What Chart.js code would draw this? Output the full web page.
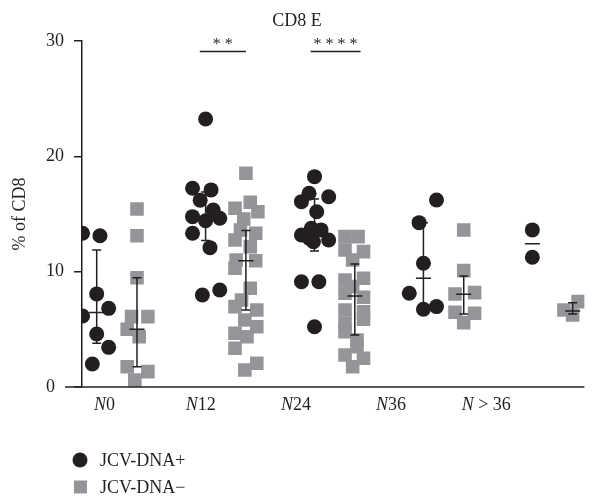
<!DOCTYPE html>
<html>
<head>
<meta charset="utf-8">
<script src="https://cdn.jsdelivr.net/npm/chart.js@4.4.1/dist/chart.umd.min.js"></script>
<style>
  html, body { margin: 0; padding: 0; background: #fff; }
  #wrap { width: 594px; height: 497px; }
</style>
</head>
<body>
<div id="wrap"><canvas id="myGraph"></canvas></div>
<script>
// groups (N = months) and where their labels sit on the x axis
const groups = ['0', '12', '24', '36', ' > 36'];
const labelPos = [-0.113, 0.77, 1.644, 2.518, 3.392];

// JCV-DNA+ values per group, with the horizontal scatter of each point
const posValues = [
  [13.33, 13.12, 8.07, 6.82, 6.16, 4.6, 3.44, 1.99],
  [23.24, 17.23, 17.09, 16.2, 15.35, 14.77, 14.63, 14.42, 13.33, 12.08, 8.41, 7.98],
  [18.24, 16.8, 16.5, 16.07, 15.2, 13.76, 13.62, 13.18, 12.9, 12.75, 12.6, 9.13, 9.13, 5.23],
  [16.22, 14.25, 10.73, 8.13, 6.97, 6.74],
  [13.62, 11.25]
];
const posJitter = [
  [-0.13, 0.03, 0, 0.11, -0.13, 0, 0.11, -0.04],
  [0, -0.12, 0.05, -0.05, 0.07, -0.12, 0.13, 0, -0.12, 0.04, 0.13, -0.03],
  [0, -0.05, 0.13, -0.12, 0.02, -0.03, 0.06, -0.12, -0.05, 0.13, -0.01, -0.12, 0.04, 0],
  [0.12, -0.04, 0, -0.13, 0.12, 0],
  [0, 0]
];

// JCV-DNA- values per group
const negValues = [
  [15.44, 13.12, 9.48, 6.1, 6.1, 5.0, 4.36, 1.76, 1.33, 0.6],
  [18.53, 16.02, 15.5, 15.2, 14.57, 13.62, 13.33, 12.75, 12.17, 11.01, 10.95, 10.29, 8.56, 7.55, 6.97, 6.68, 5.81, 5.23, 4.66, 4.36, 3.36, 2.06, 1.47],
  [13.04, 13.04, 11.88, 11.74, 11.01, 9.43, 9.28, 8.7, 8.13, 7.78, 6.68, 6.53, 5.87, 5.52, 4.8, 4.08, 3.5, 2.78, 2.49, 1.76],
  [13.62, 10.09, 8.18, 8.07, 6.48, 6.39, 5.58],
  [7.4, 6.68, 6.24]
];
const negJitter = [
  [0, 0, 0, -0.05, 0.1, -0.09, 0.02, -0.09, 0.1, -0.02],
  [0, 0.04, -0.1, 0.11, -0.02, -0.05, 0.09, -0.1, 0.04, -0.09, 0.09, -0.1, 0.04, -0.04, -0.1, 0.1, -0.01, 0.1, -0.1, 0.01, -0.1, 0.1, -0.01],
  [-0.09, 0.03, -0.09, 0.08, -0.02, 0.08, -0.09, -0.02, -0.09, 0.08, -0.09, 0.08, 0.08, -0.09, -0.09, 0.02, 0.02, -0.09, 0.08, -0.02],
  [0, 0, 0.1, -0.08, -0.08, 0.1, 0],
  [0.05, -0.08, 0]
];

// median and spread bars
const posMedian = [6.45, 14.7, 13.4, 9.43, 12.43];
const posLow = [3.79, 12.7, 11.8, 6.8, 12.43];
const posHigh = [11.88, 16.9, 16.3, 14.25, 12.43];
const negMedian = [5.0, 10.95, 7.89, 8.04, 6.59];
const negLow = [1.76, 6.68, 4.5, 6.33, 6.33];
const negHigh = [9.48, 13.56, 10.67, 9.63, 7.31];

// significance marks
const sigText = ['* *', '* * * *'];
const sigFrom = [0.761, 1.779];
const sigTo = [1.185, 2.238];
const sigY = [29.1, 29.1];

const side = 0.185;
const ink = '#231f20';
const grey = '#939598';
const serif = 'Liberation Serif';

function points(values, jitter, off) {
  const out = [];
  values.forEach((vals, g) => {
    vals.forEach((v, k) => out.push({ x: g + off + jitter[g][k], y: v }));
  });
  return out;
}

const ctx = document.getElementById('myGraph');

const extras = {
  id: 'extras',
  afterDatasetDraw(chart, args) {
    if (args.index !== 1) return;
    const c = chart.ctx, x = chart.scales.x, y = chart.scales.y;
    c.save();
    c.strokeStyle = ink;
    c.lineWidth = 1.5;
    const bar = (gx, med, lo, hi) => {
      const px = x.getPixelForValue(gx);
      const pm = y.getPixelForValue(med), pl = y.getPixelForValue(lo), ph = y.getPixelForValue(hi);
      c.beginPath();
      c.moveTo(px, pl); c.lineTo(px, ph);
      c.moveTo(px - 4.5, pl); c.lineTo(px + 4.5, pl);
      c.moveTo(px - 4.5, ph); c.lineTo(px + 4.5, ph);
      c.moveTo(px - 7.5, pm); c.lineTo(px + 7.5, pm);
      c.stroke();
    };
    groups.forEach((g, i) => {
      bar(i - side, posMedian[i], posLow[i], posHigh[i]);
      bar(i + side, negMedian[i], negLow[i], negHigh[i]);
    });
    c.restore();
  },
  afterDraw(chart) {
    const c = chart.ctx, x = chart.scales.x, y = chart.scales.y, a = chart.chartArea;
    c.save();
    c.fillStyle = ink;
    c.strokeStyle = ink;
    // baseline
    c.lineWidth = 1.5;
    c.beginPath();
    c.moveTo(a.left - 17, a.bottom);
    c.lineTo(a.right, a.bottom);
    c.stroke();
    // group labels: italic N, upright number
    c.textBaseline = 'middle';
    c.textAlign = 'left';
    groups.forEach((g, i) => {
      const cx = x.getPixelForValue(labelPos[i]);
      c.font = 'italic 18px "' + serif + '"';
      const wN = c.measureText('N').width;
      c.font = '18px "' + serif + '"';
      const wR = c.measureText(g).width;
      const left = cx - (wN + wR) / 2;
      c.font = 'italic 18px "' + serif + '"';
      c.fillText('N', left, a.bottom + 18);
      c.font = '18px "' + serif + '"';
      c.fillText(g, left + wN, a.bottom + 18);
    });
    // significance
    c.lineWidth = 1.5;
    c.textAlign = 'center';
    sigText.forEach((t, i) => {
      const x1 = x.getPixelForValue(sigFrom[i]), x2 = x.getPixelForValue(sigTo[i]);
      const py = y.getPixelForValue(sigY[i]);
      c.beginPath();
      c.moveTo(x1, py); c.lineTo(x2, py);
      c.stroke();
      c.font = '16px "' + serif + '"';
      c.fillText(t, (x1 + x2) / 2, py - 7);
    });
    // legend
    c.textAlign = 'left';
    c.font = '18px "' + serif + '"';
    chart.data.datasets.forEach((ds, i) => {
      const ly = a.bottom + 73 + i * 27;
      c.fillStyle = ds.backgroundColor;
      c.beginPath();
      if (ds.pointStyle === 'rect') {
        c.rect(74, ly - 6.5, 13, 13);
      } else {
        c.arc(80, ly, 7.5, 0, Math.PI * 2);
      }
      c.fill();
      c.fillStyle = ink;
      c.fillText(ds.label, 100, ly + 1);
    });
    c.restore();
  }
};

const data = {
  datasets: [
    {
      label: 'JCV-DNA+',
      data: points(posValues, posJitter, -side),
      pointStyle: 'circle',
      pointRadius: 7.5,
      backgroundColor: ink,
      borderWidth: 0
    },
    {
      label: 'JCV-DNA\u2212',
      data: points(negValues, negJitter, side),
      pointStyle: 'rect',
      pointRadius: 9.6,
      backgroundColor: grey,
      borderWidth: 0
    }
  ]
};

const config = {
  type: 'scatter',
  data: data,
  plugins: [extras],
  options: {
    responsive: true,
    maintainAspectRatio: false,
    animation: false,
    events: [],
    layout: { padding: { left: 0, right: 0, top: 0, bottom: 110 } },
    plugins: {
      legend: { display: false },
      tooltip: { enabled: false },
      title: {
        display: true,
        text: 'CD8 E',
        color: ink,
        font: { family: serif, size: 18, weight: 'normal' },
        padding: { top: 10, bottom: 9.4 }
      }
    },
    scales: {
      x: {
        type: 'linear',
        display: false,
        min: -0.32,
        max: 4.293
      },
      y: {
        min: 0,
        max: 30,
        afterFit: s => { s.width = 82; },
        ticks: {
          stepSize: 10,
          color: ink,
          padding: 10,
          font: { family: serif, size: 18 },
          callback: v => v === 0 ? '0  ' : String(v)
        },
        grid: {
          drawOnChartArea: false,
          drawTicks: true,
          tickLength: 8,
          color: ink,
          lineWidth: 1.5
        },
        border: { display: true, color: ink, width: 1.5 },
        title: {
          display: true,
          text: '% of CD8',
          color: ink,
          font: { family: serif, size: 18 },
          padding: { top: 9, bottom: 0 }
        }
      }
    }
  }
};

const myChart = new Chart(ctx, config);
</script>
</body>
</html>
